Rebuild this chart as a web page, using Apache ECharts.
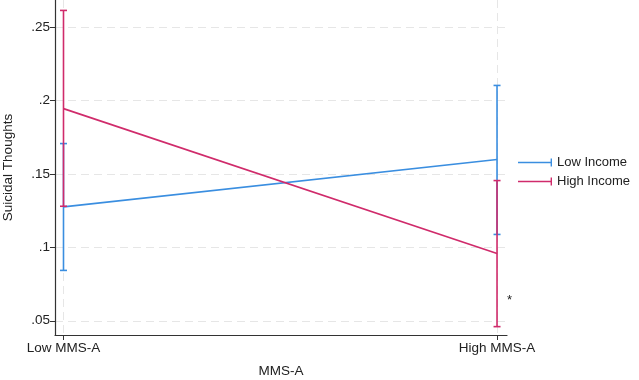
<!DOCTYPE html>
<html>
<head>
<meta charset="utf-8">
<script src="https://cdn.jsdelivr.net/npm/echarts@6/dist/echarts.min.js"></script>
<style>
  html, body { margin: 0; padding: 0; background: #fff; }
  #chart { width: 639px; height: 380px; }
</style>
</head>
<body>
<div id="chart"></div>
<script>
// categories along x (0 = low, 1 = high)
const categories = ['Low MMS-A', 'High MMS-A'];
const xPos = [0, 1];
const yTicks = [0.05, 0.1, 0.15, 0.2, 0.25];

// predicted values and confidence bounds
const lowIncome = [0.1276, 0.1598];
const lowIncomeLo = [0.0843, 0.1088];
const lowIncomeHi = [0.1707, 0.2103];
const highIncome = [0.1945, 0.0958];
const highIncomeLo = [0.128, 0.046];
const highIncomeHi = [0.2614, 0.1455];

const blue = '#3a8ee0';
const red = '#d02b6b';
const font = 'Liberation Sans, Arial, sans-serif';

const lineData = vals => vals.map((v, i) => [xPos[i], v]);
const barData = (lo, hi) => lo.map((v, i) => [xPos[i], v, hi[i]]);

// vertical CI bar with little caps at both ends
function renderBar(params, api) {
  const x = api.value(0);
  const lo = api.coord([x, api.value(1)]);
  const hi = api.coord([x, api.value(2)]);
  const c = api.visual('color');
  const w = 3.5;
  const st = { stroke: c, lineWidth: 1.6 };
  return {
    type: 'group',
    children: [
      { type: 'line', shape: { x1: lo[0], y1: lo[1], x2: hi[0], y2: hi[1] }, style: st },
      { type: 'line', shape: { x1: lo[0] - w, y1: lo[1], x2: lo[0] + w, y2: lo[1] }, style: st },
      { type: 'line', shape: { x1: hi[0] - w, y1: hi[1], x2: hi[0] + w, y2: hi[1] }, style: st },
    ],
  };
}

const gridLine = {
  show: true,
  lineStyle: { color: '#e6e6e6', type: [8, 5], width: 1 },
};

const option = {
  animation: false,
  backgroundColor: '#fff',
  grid: { left: 55, right: 132, top: 0, bottom: 45, outerBoundsMode: 'none', containLabel: false },
  legend: {
    orient: 'vertical',
    left: 513,
    top: 151,
    itemWidth: 34,
    itemHeight: 8,
    itemGap: 6,
    icon: 'path://M0,3.3H34V4.7H0Z M32.6,0H34V8H32.6Z',
    textStyle: { fontFamily: font, fontSize: 13, color: '#222' },
    data: ['Low Income', 'High Income'],
  },
  xAxis: {
    type: 'value',
    min: -0.0196,
    max: 1.023,
    name: 'MMS-A',
    nameLocation: 'middle',
    nameGap: 29,
    nameTextStyle: { fontFamily: font, fontSize: 13.5, color: '#222' },
    axisLine: { onZero: false, lineStyle: { color: '#333', width: 1.2 } },
    axisTick: { customValues: xPos, length: 5, lineStyle: { color: '#333' } },
    axisLabel: {
      customValues: xPos,
      fontFamily: font,
      fontSize: 13.5,
      color: '#222',
      margin: 6,
      formatter: v => categories[Math.round(v)],
    },
    splitLine: gridLine,
  },
  yAxis: {
    type: 'value',
    min: 0.0403,
    max: 0.2685,
    name: 'Suicidal Thoughts',
    nameLocation: 'middle',
    nameGap: 40,
    nameTextStyle: { fontFamily: font, fontSize: 13.5, color: '#222' },
    axisLine: { show: true, onZero: false, lineStyle: { color: '#333', width: 1.2 } },
    axisTick: { show: true, customValues: yTicks, length: 5, lineStyle: { color: '#333' } },
    axisLabel: {
      customValues: yTicks,
      fontFamily: font,
      fontSize: 13.5,
      color: '#222',
      margin: 5,
      formatter: v => String(+v.toFixed(2)).replace(/^0/, ''),
    },
    splitLine: gridLine,
  },
  graphic: [{
    type: 'text',
    left: 507,
    top: 294,
    style: { text: '*', fontFamily: font, fontSize: 13, fill: '#222' },
  }],
  series: [
    {
      name: 'Low Income',
      type: 'custom',
      renderItem: renderBar,
      itemStyle: { color: blue },
      data: barData(lowIncomeLo, lowIncomeHi),
      z: 2,
    },
    {
      name: 'Low Income',
      type: 'line',
      symbol: 'none',
      lineStyle: { color: blue, width: 1.6 },
      itemStyle: { color: blue },
      data: lineData(lowIncome),
      z: 2,
    },
    {
      name: 'High Income',
      type: 'custom',
      renderItem: renderBar,
      itemStyle: { color: red },
      data: barData(highIncomeLo, highIncomeHi),
      z: 3,
    },
    {
      name: 'High Income',
      type: 'line',
      symbol: 'none',
      lineStyle: { color: red, width: 1.6 },
      itemStyle: { color: red },
      data: lineData(highIncome),
      z: 3,
    },
  ],
};

const chart = echarts.init(document.getElementById('chart'), null, { renderer: 'canvas' });
chart.setOption(option);
</script>
</body>
</html>
